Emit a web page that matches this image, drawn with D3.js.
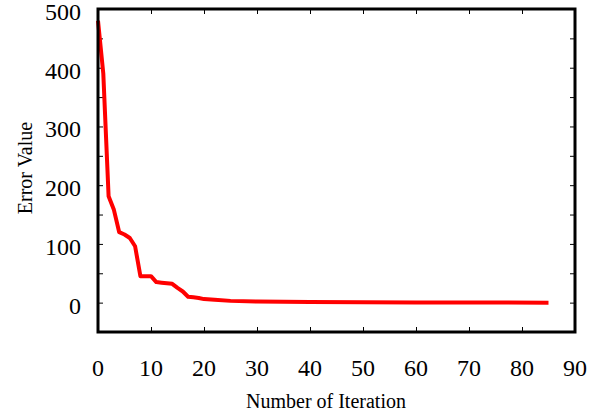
<!DOCTYPE html>
<html>
<head>
<meta charset="utf-8">
<script src="https://cdn.jsdelivr.net/npm/d3@7"></script>
<style>
  html, body { margin: 0; padding: 0; background: #fff; }
  svg { display: block; }
  text { font-family: "Liberation Serif", "Times New Roman", serif; fill: #000; }
</style>
</head>
<body>
<svg id="chart" width="600" height="419"></svg>
<script>
const iterations = [0,1,2,3,4,5,6,7,8,9,10,11,12,13,14,15,16,17,18,19,20,22,25,30,35,40,50,60,70,85];
const errors     = [480,390,181,158,120,116,110,96,45,45,45,35,34,33,32,25,19,10,9,8,6,5,3,2,1.5,1,0.8,0.3,0.2,0];
const xTickValues = [0,10,20,30,40,50,60,70,80,90];
const yTickValues = [-50,0,50,100,150,200,250,300,350,400,450,500];
const yLabelValues = [0,100,200,300,400,500];
const xTitle = "Number of Iteration";
const yTitle = "Error Value";

const svg = d3.select("#chart");
const mLeft = 98, mRight = 575, mTop = 9, mBottom = 332;
const x = d3.scaleLinear().domain([0, 90]).range([mLeft, mRight]);
const y = d3.scaleLinear().domain([-50, 500]).range([mBottom, mTop]);

// tick marks (inward) on all four sides
const tickStyle = g => {
  g.select(".domain").remove();
  g.selectAll("line").attr("stroke", "#000").attr("stroke-width", 1);
};
svg.append("g").attr("transform", `translate(0,${mBottom})`)
  .call(d3.axisBottom(x).tickValues(xTickValues).tickSize(-5).tickFormat("")).call(tickStyle);
svg.append("g").attr("transform", `translate(0,${mTop})`)
  .call(d3.axisTop(x).tickValues(xTickValues).tickSize(-5).tickFormat("")).call(tickStyle);
svg.append("g").attr("transform", `translate(${mLeft},0)`)
  .call(d3.axisLeft(y).tickValues(yTickValues).tickSize(-5).tickFormat("")).call(tickStyle);
svg.append("g").attr("transform", `translate(${mRight},0)`)
  .call(d3.axisRight(y).tickValues(yTickValues).tickSize(-5).tickFormat("")).call(tickStyle);

// data line
const line = d3.line().x((d, i) => x(iterations[i])).y(d => y(d));
svg.append("path")
  .datum(errors)
  .attr("d", line)
  .attr("fill", "none")
  .attr("stroke", "#ff0000")
  .attr("stroke-width", 4)
  .attr("stroke-linejoin", "round");

// frame
svg.append("rect")
  .attr("x", mLeft).attr("y", mTop)
  .attr("width", mRight - mLeft).attr("height", mBottom - mTop)
  .attr("fill", "none").attr("stroke", "#000").attr("stroke-width", 3);

// tick labels
svg.append("g").selectAll("text").data(xTickValues).join("text")
  .attr("x", d => x(d)).attr("y", 376)
  .attr("text-anchor", "middle").attr("font-size", 24)
  .text(d => d);
svg.append("g").selectAll("text").data(yLabelValues).join("text")
  .attr("x", 81).attr("y", d => y(d) + 11)
  .attr("text-anchor", "end").attr("font-size", 24)
  .text(d => d);

// axis titles
svg.append("text")
  .attr("x", 326).attr("y", 408)
  .attr("text-anchor", "middle").attr("font-size", 20)
  .text(xTitle);
svg.append("text")
  .attr("transform", "translate(32,168) rotate(-90)")
  .attr("text-anchor", "middle").attr("font-size", 20)
  .text(yTitle);
</script>
</body>
</html>
